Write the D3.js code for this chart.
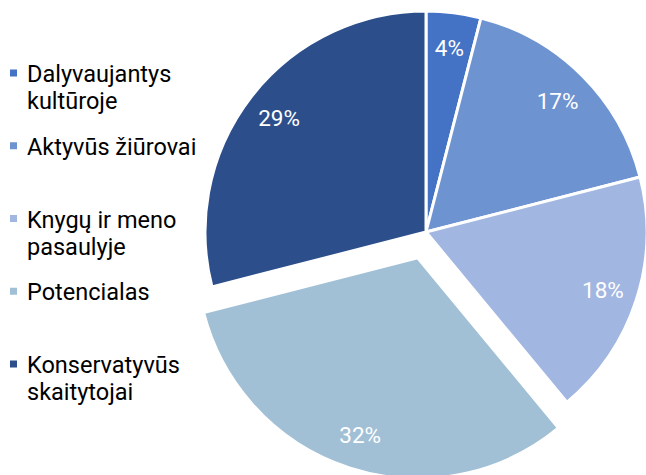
<html>
<head>
<meta charset="utf-8">
<style>
  body { margin: 0; background: #fff; }
  .legend text { font-family: Roboto, sans-serif; font-size: 23.5px; fill: #000; }
  .pct { font-family: Roboto, sans-serif; font-size: 22.5px; fill: #fff; }
</style>
<script src="https://d3js.org/d3.v7.min.js"></script>
</head>
<body>
<svg width="646" height="475"></svg>
<script>
// data
var categories = ["Dalyvaujantys kultūroje", "Aktyvūs žiūrovai", "Knygų ir meno pasaulyje", "Potencialas", "Konservatyvūs skaitytojai"];
var legendLines = [["Dalyvaujantys", "kultūroje"], ["Aktyvūs žiūrovai"], ["Knygų ir meno", "pasaulyje"], ["Potencialas"], ["Konservatyvūs", "skaitytojai"]];
var values = [4, 17, 18, 32, 29];
var colors = ["#4472c4", "#6e93d1", "#a1b6e0", "#a1c0d6", "#2c4f8b"];
var exploded = ["Potencialas"];

var svg = d3.select("svg");
var cx = 426, cy = 232, r = 221;

var pie = d3.pie().sort(null).value(function(d) { return d.v; });
var arcs = pie(categories.map(function(c, i) { return { c: c, v: values[i], col: colors[i] }; }));
var arc = d3.arc().innerRadius(0).outerRadius(r);
var lblArc = d3.arc().innerRadius(186).outerRadius(186);
var total = d3.sum(values);

var g = svg.append("g").attr("transform", "translate(" + cx + "," + cy + ")");

var slice = g.selectAll(".slice")
  .data(arcs)
  .enter().append("g")
  .attr("class", "slice")
  .attr("transform", function(d) {
    if (exploded.indexOf(d.data.c) < 0) return null;
    var a = (d.startAngle + d.endAngle) / 2, off = 27;
    return "translate(" + (Math.sin(a) * off) + "," + (-Math.cos(a) * off) + ")";
  });

slice.append("path")
  .attr("d", arc)
  .attr("fill", function(d) { return d.data.col; })
  .attr("stroke", "#fff")
  .attr("stroke-width", 3)
  .attr("stroke-linejoin", "round");

slice.append("text")
  .attr("class", "pct")
  .attr("transform", function(d) { return "translate(" + lblArc.centroid(d) + ")"; })
  .attr("text-anchor", "middle")
  .attr("dy", "0.36em")
  .text(function(d) { return Math.round(d.data.v / total * 100) + "%"; });

// legend
var ly = d3.scalePoint().domain(categories).range([82, 373]);
var leg = svg.append("g").attr("class", "legend")
  .selectAll("g")
  .data(categories)
  .enter().append("g")
  .attr("transform", function(d) { return "translate(0," + ly(d) + ")"; });

leg.append("rect")
  .attr("x", 10).attr("y", -12.5)
  .attr("width", 7).attr("height", 7)
  .attr("fill", function(d, i) { return colors[i]; });

leg.append("text")
  .attr("x", 27)
  .selectAll("tspan")
  .data(function(d, i) { return legendLines[i]; })
  .enter().append("tspan")
  .attr("x", 27)
  .attr("dy", function(d, i) { return i === 0 ? 0 : 27; })
  .text(function(d) { return d; });
</script>
</body>
</html>
